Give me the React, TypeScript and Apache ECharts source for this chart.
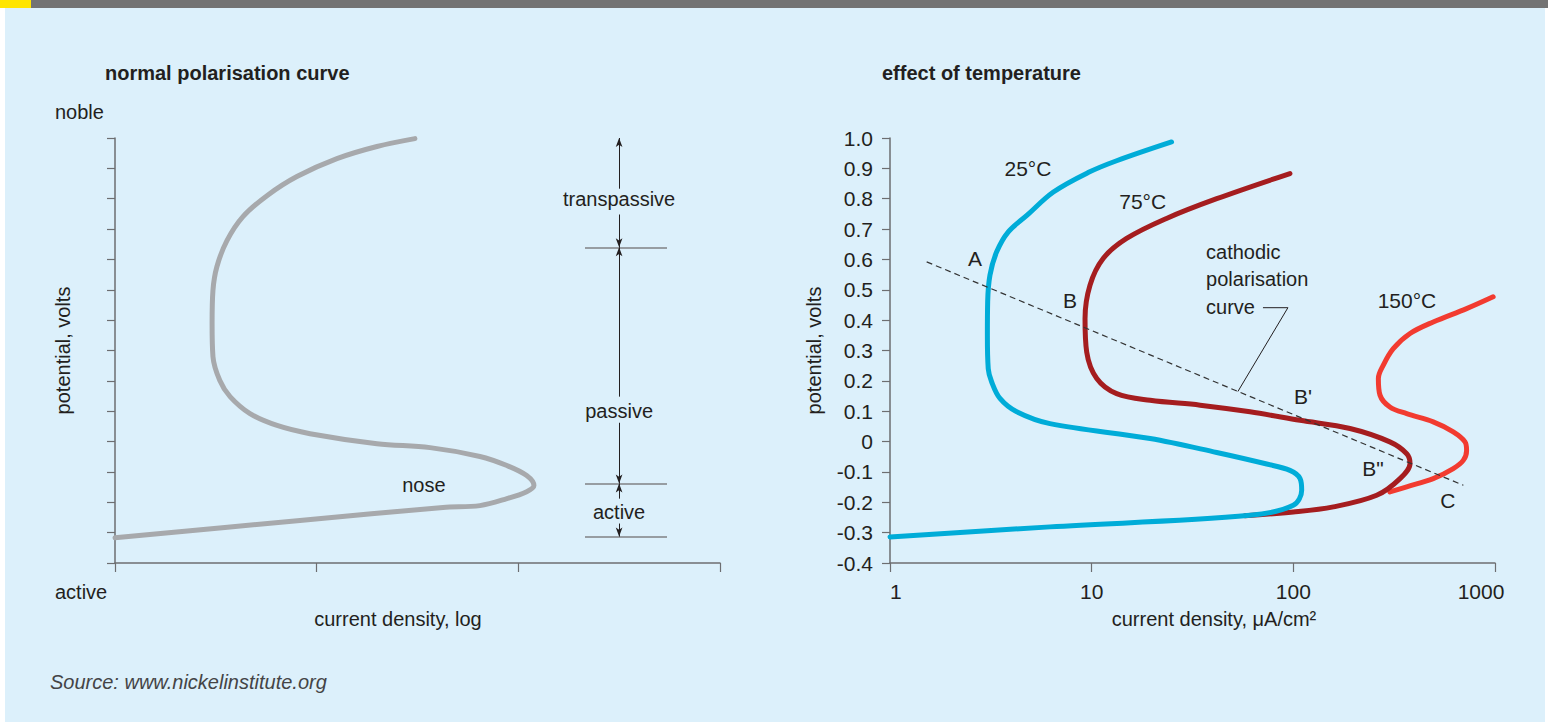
import React, { useEffect, useRef } from "react";
import * as echarts from "echarts";

// ---------- data ----------
// left panel: schematic polarisation curve [current density (log, arbitrary), potential V]
const normalCurve: [number, number][] = [
  [1, -0.317], [8.26, -0.26], [42.3, -0.217], [64.5, -0.211], [87.8, -0.188], [110, -0.165],
  [119.5, -0.145], [110, -0.112], [87.8, -0.079], [64.5, -0.049], [36.5, -0.02], [19.9, -0.007],
  [9.27, 0.026], [6.36, 0.053], [4.67, 0.092], [3.72, 0.148], [3.31, 0.201], [3.06, 0.28],
  [3.03, 0.389], [3.06, 0.498], [3.2, 0.576], [3.59, 0.662], [4.31, 0.741], [5.67, 0.81],
  [7.98, 0.873], [12.6, 0.932], [19.9, 0.972], [30.7, 0.998],
];
// region boundaries (potential, V) and annotation column position
const regionBounds = [0.64, -0.138, -0.313];
const boundX: [number, number] = [214, 546];
const arrowX = 316;
const regionLabels = [
  { name: "transpassive", v: 0.8 },
  { name: "passive", v: 0.102 },
  { name: "active", v: -0.231 },
];
// arrow segments [from, to] potentials (arrow head at "to")
const arrowSegs: [number, number][] = [
  [0.833, 1.0], [0.748, 0.64], [0.148, 0.64], [0.062, -0.138], [-0.188, -0.138], [-0.27, -0.313],
];
const noseLabel: [number, number] = [34, -0.142];

// right panel: effect of temperature, current density µA/cm², potential V
const curve25: [number, number][] = [
  [1, -0.314], [6.21, -0.281], [61, -0.243], [99.9, -0.21], [110, -0.16], [108, -0.122],
  [96.2, -0.095], [73.8, -0.074], [41.7, -0.036], [19.5, 0.01], [6.21, 0.059], [4.25, 0.098],
  [3.51, 0.142], [3.19, 0.197], [3.07, 0.24], [3.04, 0.35], [3.05, 0.46], [3.13, 0.548],
  [3.38, 0.625], [3.86, 0.691], [4.77, 0.745], [6.46, 0.822], [9.6, 0.886], [13.3, 0.925],
  [24.9, 0.987],
];
const curve75: [number, number][] = [
  [57.5, -0.244], [100, -0.232], [158, -0.215], [259, -0.177], [338, -0.122], [379, -0.072],
  [365, -0.04], [301, -0.001], [191, 0.043], [108, 0.07], [61, 0.098], [34.5, 0.12],
  [19.5, 0.136], [13.3, 0.158], [10.6, 0.208], [9.45, 0.295], [9.27, 0.405], [9.81, 0.515],
  [11.4, 0.603], [14.9, 0.669], [23.5, 0.735], [41.7, 0.8], [96.2, 0.883],
];
const curve150: [number, number][] = [
  [301, -0.166], [365, -0.149], [494, -0.122], [621, -0.089], [696, -0.062], [723, -0.029],
  [710, -0.001], [621, 0.032], [494, 0.065], [365, 0.092], [301, 0.114], [269, 0.153],
  [264, 0.208], [279, 0.251], [313, 0.306], [379, 0.356], [494, 0.394], [723, 0.438],
  [979, 0.477],
];
const cathodicLine: [number, number][] = [[1.52, 0.592], [697, -0.144]];
const calloutLine: [number, number][] = [[70.7, 0.441], [94, 0.441], [53.1, 0.165]];
const pointLabels = [
  { name: "A", x: 2.64, v: 0.603 },
  { name: "B", x: 7.8, v: 0.464 },
  { name: "B'", x: 111.6, v: 0.148 },
  { name: 'B"', x: 248, v: -0.089 },
  { name: "C", x: 584, v: -0.194 },
  { name: "25°C", x: 4.83, v: 0.899 },
  { name: "75°C", x: 17.9, v: 0.79 },
  { name: "150°C", x: 366, v: 0.464 },
];
const calloutText = { name: "cathodic\npolarisation\ncurve", x: 36.9, v: 0.534 };

const yMin = -0.4;
const yMax = 1.0;
const yStep = 0.1;
const xMin = 1;
const xMax = 1000;

// ---------- styles ----------
const FONT = "'Liberation Sans', Arimo, Arial, sans-serif";
const INK = "#231f20";
const AXIS = "#6d6e71";
const C_GRAY = "#a7a9ac";
const C_25 = "#00acd8";
const C_75 = "#a51d1f";
const C_150 = "#f23b30";

function fmtY(v: number) {
  const r = Math.round(v * 10) / 10;
  return r === 0 ? "0" : r.toFixed(1);
}

export default function App() {
  const ref = useRef<HTMLDivElement>(null);

  useEffect(() => {
    if (!ref.current) return;
    const chart = echarts.init(ref.current, undefined, { renderer: "svg" });

    const commonY = {
      type: "value" as const,
      min: yMin,
      max: yMax,
      interval: yStep,
      splitLine: { show: false },
      axisLine: { show: true, onZero: false, lineStyle: { color: AXIS, width: 1.5 } },
      axisTick: { show: true, inside: false, length: 8, lineStyle: { color: AXIS, width: 1.2 } },
      nameLocation: "middle" as const,
      nameRotate: 90,
      nameTextStyle: { fontFamily: FONT, fontSize: 20, color: INK },
    };
    const commonX = {
      type: "log" as const,
      logBase: 10,
      min: xMin,
      max: xMax,
      splitLine: { show: false },
      minorTick: { show: false },
      axisLine: { show: true, onZero: false, lineStyle: { color: AXIS, width: 1.5 } },
      axisTick: { show: true, inside: false, length: 9, lineStyle: { color: AXIS, width: 1.2 } },
      nameLocation: "middle" as const,
      nameGap: 46,
    };

    const textLabel = (size: number) => ({
      show: true,
      formatter: "{b}",
      position: "inside" as const,
      fontFamily: FONT,
      fontSize: size,
      color: INK,
    });
    const labelItem = { color: "transparent", opacity: 1 };

    const markLineData: any[] = [];
    regionBounds.forEach((v) => {
      markLineData.push([
        { coord: [boundX[0], v], symbol: "none", lineStyle: { color: "#808285", width: 1.5, type: "solid" } },
        { coord: [boundX[1], v], symbol: "none" },
      ]);
    });
    arrowSegs.forEach(([a, b]) => {
      markLineData.push([
        { coord: [arrowX, a], symbol: "none", lineStyle: { color: INK, width: 1, type: "solid" } },
        { coord: [arrowX, b], symbol: "arrow", symbolSize: [5, 9] },
      ]);
    });

    chart.setOption({
      animation: false,
      backgroundColor: "transparent",
      grid: [
        { left: 115, right: 1548 - 720, top: 138, bottom: 722 - 563 },
        { left: 890, right: 1548 - 1495, top: 138, bottom: 722 - 563 },
      ],
      xAxis: [
        {
          ...commonX,
          gridIndex: 0,
          axisLabel: { show: false },
          name: "current density, log",
          nameTextStyle: { fontFamily: FONT, fontSize: 20, color: INK, padding: [0, 39, 0, 0] },
        },
        {
          ...commonX,
          gridIndex: 1,
          name: "current density, μA/cm²",
          nameTextStyle: { fontFamily: FONT, fontSize: 20, color: INK, padding: [0, 0, 0, 43] },
          axisLabel: {
            show: true,
            margin: 18,
            fontFamily: FONT,
            fontSize: 21,
            color: INK,
            alignMinLabel: "left",
            formatter: (v: number) => (Math.round(v) === 1000 ? "{r|1000}" : String(Math.round(v))),
            rich: { r: { fontFamily: FONT, fontSize: 21, color: INK, padding: [0, 28, 0, 0] } },
          },
        },
      ],
      yAxis: [
        {
          ...commonY,
          gridIndex: 0,
          axisLabel: { show: false },
          name: "potential, volts",
          nameGap: 42,
        },
        {
          ...commonY,
          gridIndex: 1,
          name: "potential, volts",
          nameGap: 66,
          axisLabel: {
            show: true,
            margin: 17,
            fontFamily: FONT,
            fontSize: 21,
            color: INK,
            formatter: fmtY,
          },
        },
      ],
      series: [
        {
          type: "line",
          xAxisIndex: 0,
          yAxisIndex: 0,
          data: normalCurve,
          showSymbol: false,
          smooth: 0.35,
          lineStyle: { color: C_GRAY, width: 5, cap: "round", join: "round" },
          silent: true,
        },
        {
          type: "line",
          xAxisIndex: 0,
          yAxisIndex: 0,
          data: [],
          silent: true,
          markLine: {
            silent: true,
            animation: false,
            label: { show: false },
            emphasis: { disabled: true },
            lineStyle: { type: "solid", color: INK, width: 1 },
            data: markLineData,
          },
        },
        {
          type: "scatter",
          xAxisIndex: 0,
          yAxisIndex: 0,
          symbolSize: 0.1,
          itemStyle: labelItem,
          silent: true,
          label: textLabel(20),
          data: [
            ...regionLabels.map((r) => ({ name: r.name, value: [arrowX, r.v] })),
            { name: "nose", value: noseLabel },
          ],
        },
        {
          type: "line",
          xAxisIndex: 1,
          yAxisIndex: 1,
          data: curve150,
          showSymbol: false,
          smooth: 0.35,
          lineStyle: { color: C_150, width: 5, cap: "round", join: "round" },
          silent: true,
        },
        {
          type: "line",
          xAxisIndex: 1,
          yAxisIndex: 1,
          data: curve75,
          showSymbol: false,
          smooth: 0.35,
          lineStyle: { color: C_75, width: 5, cap: "round", join: "round" },
          silent: true,
        },
        {
          type: "line",
          xAxisIndex: 1,
          yAxisIndex: 1,
          data: curve25,
          showSymbol: false,
          smooth: 0.35,
          lineStyle: { color: C_25, width: 5, cap: "round", join: "round" },
          silent: true,
        },
        {
          type: "line",
          xAxisIndex: 1,
          yAxisIndex: 1,
          data: cathodicLine,
          showSymbol: false,
          lineStyle: { color: "#333333", width: 1.2, type: [6, 4] },
          silent: true,
        },
        {
          type: "line",
          xAxisIndex: 1,
          yAxisIndex: 1,
          data: calloutLine,
          showSymbol: false,
          lineStyle: { color: INK, width: 1 },
          silent: true,
        },
        {
          type: "scatter",
          xAxisIndex: 1,
          yAxisIndex: 1,
          symbolSize: 0.1,
          itemStyle: labelItem,
          silent: true,
          label: textLabel(21),
          data: pointLabels.map((p) => ({ name: p.name, value: [p.x, p.v] })),
        },
        {
          type: "scatter",
          xAxisIndex: 1,
          yAxisIndex: 1,
          symbolSize: 0.1,
          itemStyle: labelItem,
          silent: true,
          label: {
            show: true,
            formatter: "{b}",
            position: "right",
            distance: 0,
            align: "left",
            verticalAlign: "middle",
            lineHeight: 27.5,
            fontFamily: FONT,
            fontSize: 20,
            color: INK,
          },
          data: [{ name: calloutText.name, value: [calloutText.x, calloutText.v] }],
        },
      ],
      graphic: [
        {
          type: "text",
          x: 105,
          y: 73,
          style: {
            text: "normal polarisation curve",
            fill: INK,
            font: `bold 20px ${FONT}`,
            textVerticalAlign: "middle",
            verticalAlign: "middle",
          },
        },
        {
          type: "text",
          x: 882,
          y: 73,
          style: {
            text: "effect of temperature",
            fill: INK,
            font: `bold 20px ${FONT}`,
            textVerticalAlign: "middle",
            verticalAlign: "middle",
          },
        },
        {
          type: "text",
          x: 55,
          y: 112,
          style: {
            text: "noble",
            fill: INK,
            font: `20px ${FONT}`,
            textVerticalAlign: "middle",
            verticalAlign: "middle",
          },
        },
        {
          type: "text",
          x: 55,
          y: 592,
          style: {
            text: "active",
            fill: INK,
            font: `20px ${FONT}`,
            textVerticalAlign: "middle",
            verticalAlign: "middle",
          },
        },
        {
          type: "text",
          x: 50,
          y: 682,
          style: {
            text: "Source: www.nickelinstitute.org",
            fill: "#444446",
            font: `italic 20px ${FONT}`,
            textVerticalAlign: "middle",
            verticalAlign: "middle",
          },
        },
      ],
    });

    return () => chart.dispose();
  }, []);

  return (
    <div
      style={{
        position: "fixed",
        left: 0,
        top: 0,
        width: 1548,
        height: 722,
        background: "#ffffff",
        overflow: "hidden",
      }}
    >
      <div style={{ position: "absolute", left: 0, top: 0, width: 1548, height: 8, background: "#737373" }} />
      <div style={{ position: "absolute", left: 0, top: 0, width: 31, height: 8, background: "#ffe500" }} />
      <div style={{ position: "absolute", left: 5, top: 8, width: 1540, height: 714, background: "#dcf0fb" }} />
      <div ref={ref} style={{ position: "absolute", left: 0, top: 0, width: 1548, height: 722 }} />
    </div>
  );
}
